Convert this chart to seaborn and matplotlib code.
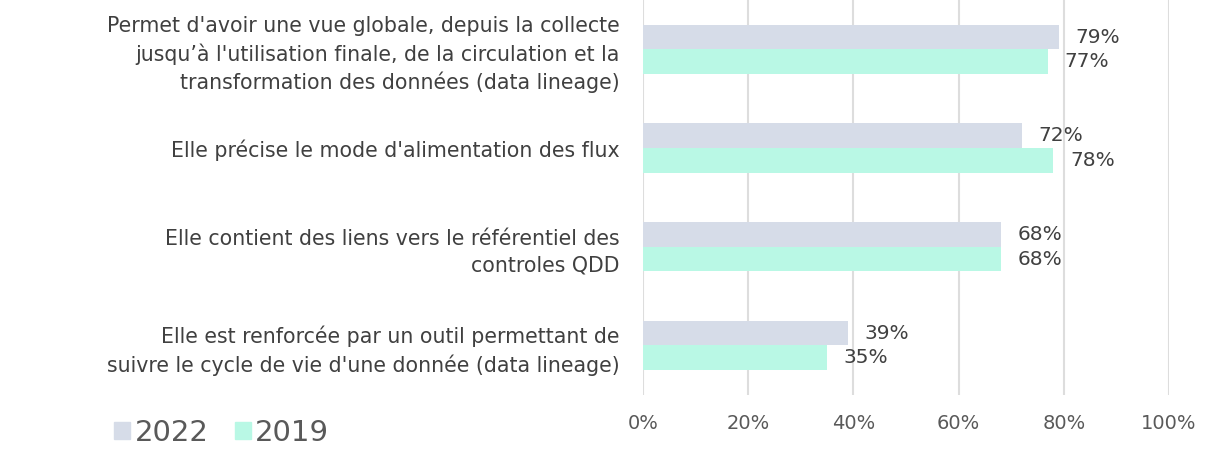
import matplotlib
matplotlib.use("Agg")
import matplotlib.pyplot as plt
import seaborn as sns
import pandas as pd

# data
categories = [
    "Permet d'avoir une vue globale, depuis la collecte\njusqu’à l'utilisation finale, de la circulation et la\ntransformation des données (data lineage)",
    "Elle précise le mode d'alimentation des flux",
    "Elle contient des liens vers le référentiel des\ncontroles QDD",
    "Elle est renforcée par un outil permettant de\nsuivre le cycle de vie d'une donnée (data lineage)",
]
years = ["2022", "2019"]
values_2022 = [79, 72, 68, 39]
values_2019 = [77, 78, 68, 35]
colors = ["#D6DCE8", "#B9F8E5"]

df = pd.DataFrame({
    "cat": categories * 2,
    "year": [years[0]] * 4 + [years[1]] * 4,
    "val": values_2022 + values_2019,
})

sns.set_style("white")
plt.rcParams["font.family"] = ["DejaVu Sans"]
text_col = "#404040"

fig = plt.figure(figsize=(12.19, 4.57), dpi=100)
ax = fig.add_axes([0.5275, 0.136, 0.4315, 0.864])

sns.barplot(data=df, y="cat", x="val", hue="year", hue_order=years,
            palette=colors, orient="h", width=0.5, ax=ax, legend=False,
            saturation=1, linewidth=0)

for cont in ax.containers:
    ax.bar_label(cont, labels=[f"{int(v)}%" for v in cont.datavalues],
                 padding=12, fontsize=14.5, color=text_col)

ax.set_xlim(0, 100)
ax.set_ylim(3.5, -0.5)
ax.set_xticks([0, 20, 40, 60, 80, 100])
ax.set_xticklabels([f"{t}%" for t in [0, 20, 40, 60, 80, 100]])
ax.grid(axis="x", color="#DDDDDD", linewidth=1.5)
ax.set_axisbelow(True)
for s in ax.spines.values():
    s.set_visible(False)
ax.tick_params(axis="x", length=0, pad=14, labelsize=14, labelcolor="#595959")
ax.tick_params(axis="y", length=0, pad=17, labelsize=14.8, labelcolor=text_col)
for lab in ax.get_yticklabels():
    lab.set_horizontalalignment("right")
    lab.set_linespacing(1.4)
ax.set_xlabel("")
ax.set_ylabel("")

handles = [plt.Rectangle((0, 0), 1, 1, color=c) for c in colors]
fig.legend(handles, years, loc="lower left", bbox_to_anchor=(0.072, -0.035),
           ncol=2, frameon=False, fontsize=21, handlelength=0.55,
           handleheight=0.55, handletextpad=0.15, columnspacing=0.9,
           labelcolor="#595959")

fig.savefig("out.png", dpi=100)
